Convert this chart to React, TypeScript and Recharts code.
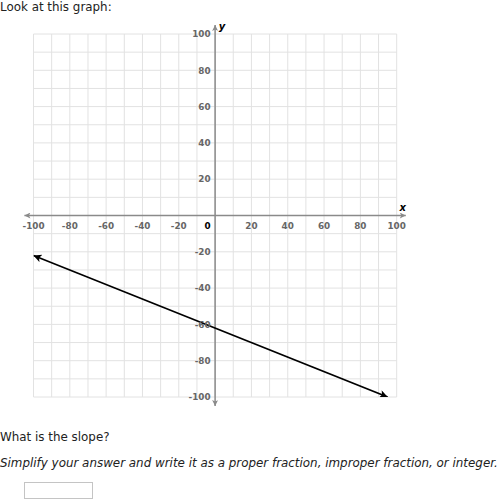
import { LineChart, Line, XAxis, YAxis, ReferenceLine, ReferenceDot } from 'recharts'

// grid lines every 10 units
const GRID_TICKS = [-100, -90, -80, -70, -60, -50, -40, -30, -20, -10, 0, 10, 20, 30, 40, 50, 60, 70, 80, 90, 100]
const X_LABELS = [-100, -80, -60, -40, -20, 20, 40, 60, 80, 100]
const Y_LABELS = [100, 80, 60, 40, 20, -20, -40, -60, -80, -100]

// the plotted line, both ends carry arrows
const LINE_X = [-100, 95]
const LINE_Y = [-22, -100]

const AXIS_REACH = 105

const FONT = '"DejaVu Sans", Verdana, sans-serif'
const LABEL_GRAY = '#666666'
const AXIS_GRAY = '#8a8a8a'
const GRID_GRAY = '#e2e2e2'

const linePoints = LINE_X.map((x, i) => ({ x, y: LINE_Y[i] }))

const axisShape = (props: any) => (
  <line
    x1={props.x1}
    y1={props.y1}
    x2={props.x2}
    y2={props.y2}
    stroke={AXIS_GRAY}
    strokeWidth={1.5}
    markerStart="url(#arrowGray)"
    markerEnd="url(#arrowGray)"
  />
)

const xLabel = (v: number, color = LABEL_GRAY, anchor: 'middle' | 'end' = 'middle', dx = 0) =>
  (props: any) => {
    const vb = props.viewBox
    return (
      <text
        x={vb.x + vb.width / 2 + dx}
        y={vb.y + vb.height / 2 + 13.2}
        textAnchor={anchor}
        fontSize={8.8}
        fontWeight="bold"
        fontFamily={FONT}
        fill={color}
      >
        {v}
      </text>
    )
  }

const yLabel = (v: number) => (props: any) => {
  const vb = props.viewBox
  return (
    <text
      x={vb.x + vb.width / 2 - 4.5}
      y={vb.y + vb.height / 2 + 3.2}
      textAnchor="end"
      fontSize={8.8}
      fontWeight="bold"
      fontFamily={FONT}
      fill={LABEL_GRAY}
    >
      {v}
    </text>
  )
}

const axisName = (name: string, dx: number, dy: number) => (props: any) => {
  const vb = props.viewBox
  return (
    <text
      x={vb.x + vb.width / 2 + dx}
      y={vb.y + vb.height / 2 + dy}
      textAnchor="middle"
      fontSize={10}
      fontWeight="bold"
      fontStyle="italic"
      fontFamily={FONT}
      fill="#000"
    >
      {name}
    </text>
  )
}

export default function App() {
  return (
    <div
      style={{
        position: 'relative',
        width: 497,
        height: 500,
        overflow: 'hidden',
        fontFamily: FONT,
        fontSize: 11.9,
        color: '#222',
        background: '#fff',
      }}
    >
      <style>{'body{margin:0}'}</style>
      <svg width={0} height={0} style={{ position: 'absolute' }}>
        <defs>
          <marker id="arrowBlack" viewBox="0 0 10 10" refX={10} refY={5} markerUnits="userSpaceOnUse" markerWidth={10} markerHeight={8} orient="auto-start-reverse">
            <path d="M0,0 L10,5 L0,10 L2.5,5 Z" fill="#000" />
          </marker>
          <marker id="arrowGray" viewBox="0 0 10 10" refX={10} refY={5} markerUnits="userSpaceOnUse" markerWidth={8} markerHeight={6} orient="auto-start-reverse">
            <path d="M0,0 L10,5 L0,10 L2.5,5 Z" fill={AXIS_GRAY} />
          </marker>
        </defs>
      </svg>

      <div style={{ position: 'absolute', left: 0, top: 1, lineHeight: '12px', whiteSpace: 'nowrap' }}>Look at this graph:</div>

      <div style={{ position: 'absolute', left: 0, top: 0 }}>
        <LineChart width={430} height={430} data={linePoints} margin={{ top: 34, right: 33.3, bottom: 33, left: 33.5 }}>
          <XAxis type="number" dataKey="x" domain={[-100, 100]} ticks={GRID_TICKS} allowDataOverflow hide />
          <YAxis type="number" domain={[-100, 100]} ticks={GRID_TICKS} allowDataOverflow hide />
          {GRID_TICKS.map((v) => (
            <ReferenceLine key={'gx' + v} x={v} stroke={GRID_GRAY} strokeWidth={1} />
          ))}
          {GRID_TICKS.map((v) => (
            <ReferenceLine key={'gy' + v} y={v} stroke={GRID_GRAY} strokeWidth={1} />
          ))}
          <ReferenceLine segment={[{ x: -AXIS_REACH, y: 0 }, { x: AXIS_REACH, y: 0 }]} ifOverflow="visible" shape={axisShape} />
          <ReferenceLine segment={[{ x: 0, y: -AXIS_REACH }, { x: 0, y: AXIS_REACH }]} ifOverflow="visible" shape={axisShape} />
          {X_LABELS.map((v) => (
            <ReferenceDot key={'x' + v} x={v} y={0} r={0} fill="none" stroke="none" label={xLabel(v)} />
          ))}
          <ReferenceDot x={0} y={0} r={0} fill="none" stroke="none" label={xLabel(0, '#000', 'end', -4.5)} />
          {Y_LABELS.map((v) => (
            <ReferenceDot key={'y' + v} x={0} y={v} r={0} fill="none" stroke="none" label={yLabel(v)} />
          ))}
          <ReferenceDot x={100} y={0} r={0} fill="none" stroke="none" label={axisName('x', 6, -4.5)} />
          <ReferenceDot x={0} y={100} r={0} fill="none" stroke="none" label={axisName('y', 7, -4)} />
          <Line
            dataKey="y"
            stroke="#000"
            strokeWidth={1.7}
            dot={false}
            isAnimationActive={false}
            markerStart="url(#arrowBlack)"
            markerEnd="url(#arrowBlack)"
          />
        </LineChart>
      </div>

      <div style={{ position: 'absolute', left: 0, top: 431, lineHeight: '12px', whiteSpace: 'nowrap' }}>What is the slope?</div>
      <div style={{ position: 'absolute', left: 0, top: 457, lineHeight: '12px', whiteSpace: 'nowrap', fontStyle: 'italic' }}>
        Simplify your answer and write it as a proper fraction, improper fraction, or integer.
      </div>
      <div
        style={{
          position: 'absolute',
          left: 24,
          top: 482,
          width: 67,
          height: 15,
          border: '1px solid #c4c4c4',
          background: '#fff',
        }}
      />
    </div>
  )
}
